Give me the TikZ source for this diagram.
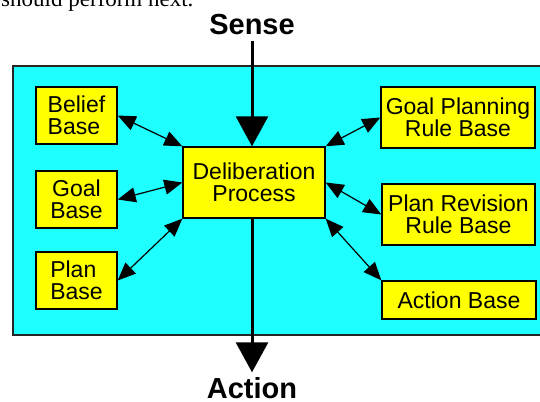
\documentclass[tikz,border=0pt]{standalone}
\usepackage{fontspec}
\setmainfont{Liberation Sans}
\newfontfamily\serfont{Liberation Serif}
\usetikzlibrary{arrows.meta}
\definecolor{panelcyan}{RGB}{30,255,255}
\definecolor{boxyellow}{RGB}{255,255,0}
\tikzset{
  kbox/.style={draw=black, line width=1.4pt, fill=boxyellow, inner sep=0pt,
    font=\fontsize{23}{22}\selectfont, minimum width=#1},
  kbox/.default=81pt,
  bigtext/.style={font=\fontsize{29}{30}\selectfont\bfseries, inner sep=0pt},
  bigarrow/.style={line width=3pt, -{Triangle[length=30pt,width=32pt]}},
  duplex/.style={line width=1.2pt, {Triangle[length=18pt,width=15pt]}-{Triangle[length=18pt,width=15pt]}}
}
\begin{document}
\begin{tikzpicture}[x=1pt,y=1pt]
\useasboundingbox (0,0) rectangle (540,401);
% fragment of preceding text line, cut by the top edge
\node[anchor=base west, inner sep=0pt, font=\fontsize{23}{24}\selectfont\serfont] (prevtext) at (1,394) {should perform next.};
% panel
\draw[line width=2pt, draw=black!85, fill=panelcyan] (13,335) rectangle (548,66);
% nodes
\node[kbox, minimum height=57pt, align=left] (belief) at (76.5,285.5) {Belief\\Base};
\node[kbox, minimum height=57pt, align=center] (goal) at (76.5,201.5) {Goal\\Base};
\node[kbox, minimum height=57pt, align=left] (plan) at (76.5,120.5) {Plan\\Base};
\node[kbox=142pt, minimum height=71pt, align=center] (delib) at (254,218.5) {Deliberation\\Process};
\node[kbox=154pt, minimum height=61pt, align=center] (gpr) at (458,283.5) {Goal Planning\\Rule Base};
\node[kbox=153pt, minimum height=61pt, align=center] (prr) at (458.5,186.5) {Plan Revision\\Rule Base};
\node[kbox=154pt, minimum height=38pt, align=center] (act) at (459,101) {Action Base};
% Sense / Action
\node[bigtext, anchor=base] (sense) at (252,366) {Sense};
\node[bigtext, anchor=base] (action) at (252,2.5) {Action};
\draw[bigarrow, shorten <=6pt] (sense.south) -- (sense.south |- delib.north);
\draw[bigarrow, shorten >=5pt] (delib.south -| action) -- (action.north);
% double arrows
\draw[duplex] (belief.east) -- (delib.north west);
\draw[duplex] (goal.east) -- (delib.west);
\draw[duplex] (plan.east) -- (delib.south west);
\draw[duplex] (gpr.west) -- (delib.north east);
\draw[duplex] (delib.east) -- (prr.west);
\draw[duplex] (delib.south east) -- (act.north west);
\end{tikzpicture}
\end{document}
